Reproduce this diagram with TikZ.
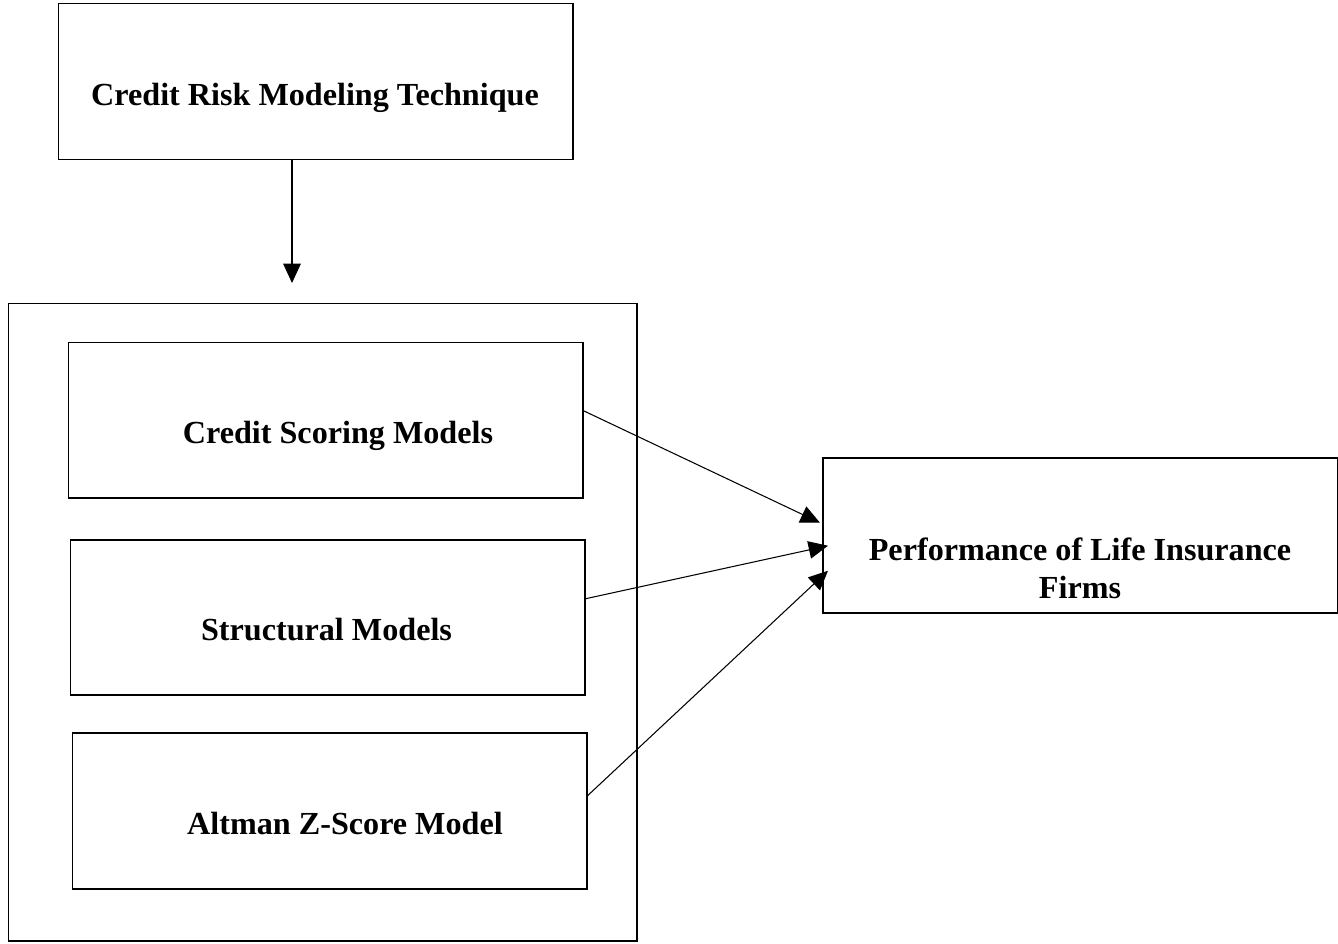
\documentclass[tikz,border=0pt]{standalone}
\usepackage{fontspec}
\setmainfont{Liberation Serif}
\usepackage{tikz}
\usetikzlibrary{calc,arrows.meta,positioning}
\tikzset{
  box/.style={draw, line width=0.85pt, inner sep=0pt, anchor=north west},
  boxtext/.style={anchor=base, inner sep=0pt, font=\fontsize{18.3}{21.6}\selectfont\bfseries},
  link/.style={-{Triangle[length=11pt, width=10pt]}, line width=0.6pt}
}

\begin{document}
\begin{tikzpicture}[x=0.02cm, y=-0.02cm]
        \useasboundingbox (0,0) rectangle (1338,943);
        % boxes
        \node[box, minimum width=514*0.02cm, minimum height=156*0.02cm] (technique) at (58,3) {};
        \node[box, minimum width=628*0.02cm, minimum height=637*0.02cm] (group) at (8,303) {};
        \node[box, minimum width=514*0.02cm, minimum height=155*0.02cm] (scoring) at (68,342) {};
        \node[box, minimum width=514*0.02cm, minimum height=155*0.02cm] (structural) at (70,539) {};
        \node[box, minimum width=514*0.02cm, minimum height=156*0.02cm] (altman) at (72,732) {};
        \node[box, minimum width=515*0.02cm, minimum height=155*0.02cm] (performance) at (822,457) {};
        % texts
        \node[boxtext] (technique-text) at (315,105) {Credit Risk Modeling Technique};
        \node[boxtext] (scoring-text) at (338,443) {Credit Scoring Models};
        \node[boxtext] (structural-text) at (326.5,640) {Structural Models};
        \node[boxtext] (altman-text) at (345,834) {Altman Z-Score Model};
        \node[boxtext, align=center] (performance-text) at (1080,598) {Performance of Life Insurance\\Firms};
        % arrows
        \draw[link] ($(technique.south west)+(234,0)$) -- ($(group.north west)+(284,-20)$);
        \draw[link] ($(scoring.east)+(0,-9.5)$) -- ($(performance.west)+(-2,-12.5)$);
        \draw[link] ($(structural.east)+(0,-18.5)$) -- ($(performance.west)+(6,10.5)$);
        \draw[link] ($(altman.east)+(0,-15)$) -- ($(performance.west)+(6,35.5)$);
    \end{tikzpicture}
\end{document}
